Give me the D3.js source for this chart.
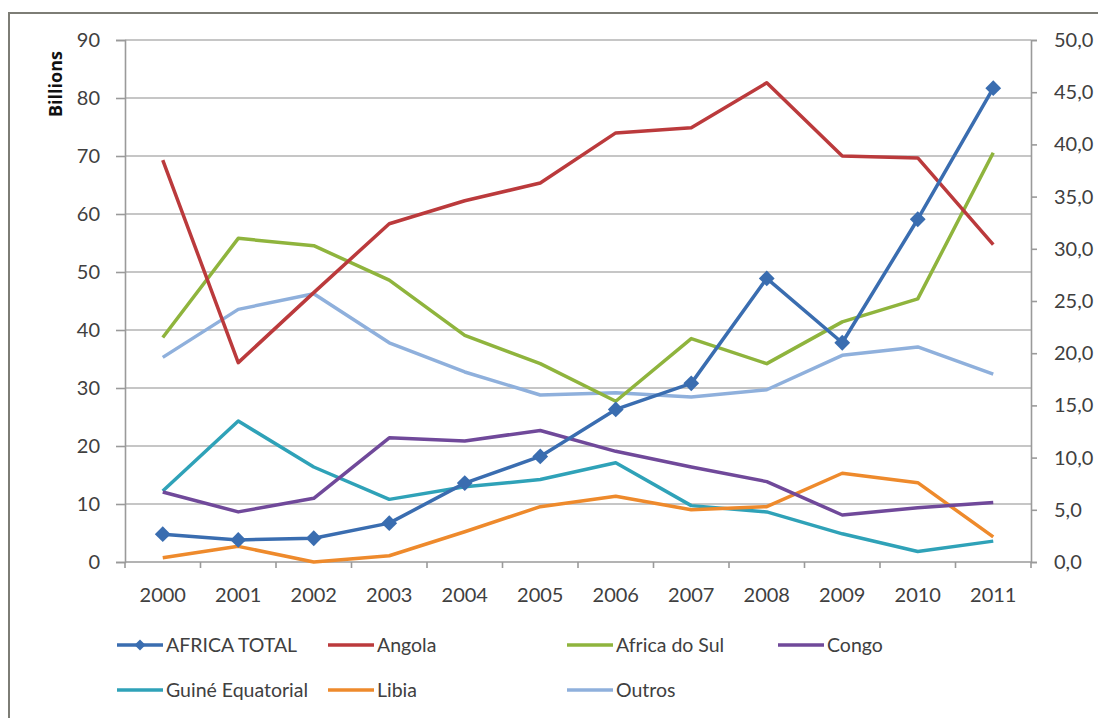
<!DOCTYPE html>
<html>
<head>
<meta charset="utf-8">
<script src="https://cdn.jsdelivr.net/npm/d3@7"></script>
<style>
  html, body { margin: 0; padding: 0; background: #ffffff; }
  svg { display: block; }
  text { font-family: Lato, "Open Sans", sans-serif; fill: #404040; }
</style>
</head>
<body>
<svg id="chart" width="1098" height="718"></svg>
<script>
// Categories (years)
const years = ["2000","2001","2002","2003","2004","2005","2006","2007","2008","2009","2010","2011"];

// Primary axis series (billions)
const africaTotal = [4.8, 3.8, 4.1, 6.7, 13.6, 18.2, 26.3, 30.8, 48.9, 37.8, 59.1, 81.7];

// Secondary axis series
const angola        = [38.5, 19.1, 25.8, 32.4, 34.6, 36.3, 41.1, 41.6, 45.9, 38.9, 38.7, 30.4];
const africaDoSul   = [21.5, 31.0, 30.3, 27.0, 21.7, 19.0, 15.4, 21.4, 19.0, 23.0, 25.2, 39.2];
const congo         = [6.7, 4.8, 6.1, 11.9, 11.6, 12.6, 10.6, 9.1, 7.7, 4.5, 5.2, 5.7];
const guineEq       = [6.8, 13.5, 9.1, 6.0, 7.2, 7.9, 9.5, 5.4, 4.8, 2.7, 1.0, 2.0];
const libia         = [0.4, 1.5, 0.0, 0.6, 2.9, 5.3, 6.3, 5.0, 5.3, 8.5, 7.6, 2.4];
const outros        = [19.6, 24.2, 25.7, 21.0, 18.2, 16.0, 16.2, 15.8, 16.5, 19.8, 20.6, 18.0];

// Tick values
const leftTicks  = [0, 10, 20, 30, 40, 50, 60, 70, 80, 90];
const rightTicks = [0, 5, 10, 15, 20, 25, 30, 35, 40, 45, 50];

const series = [
  { name: "AFRICA TOTAL",     values: africaTotal, axis: "left",  color: "#3a6db0", marker: true },
  { name: "Angola",           values: angola,      axis: "right", color: "#bb3a3c" },
  { name: "Africa do Sul",    values: africaDoSul, axis: "right", color: "#8fb43d" },
  { name: "Congo",            values: congo,       axis: "right", color: "#70499a" },
  { name: "Guiné Equatorial", values: guineEq,     axis: "right", color: "#2fa2b8" },
  { name: "Libia",            values: libia,       axis: "right", color: "#ee8a2c" },
  { name: "Outros",           values: outros,      axis: "right", color: "#8fb0dc" }
];

const svg = d3.select("#chart");
const plot = { left: 125, right: 1031, top: 40, bottom: 562 };

// Outer chart frame
svg.append("rect")
  .attr("x", 9).attr("y", 13)
  .attr("width", 1100).attr("height", 720)
  .attr("fill", "#ffffff")
  .attr("stroke", "#7d7d76").attr("stroke-width", 2);

const x = d3.scaleBand().domain(years).range([plot.left, plot.right]).paddingInner(0).paddingOuter(0);
const yL = d3.scaleLinear().domain([0, 90]).range([plot.bottom, plot.top]);
const yR = d3.scaleLinear().domain([0, 50]).range([plot.bottom, plot.top]);

// Horizontal gridlines
svg.append("g")
  .selectAll("line")
  .data(leftTicks.filter(d => d > 0))
  .join("line")
  .attr("x1", plot.left).attr("x2", plot.right)
  .attr("y1", d => yL(d)).attr("y2", d => yL(d))
  .attr("stroke", "#b3b3b3").attr("stroke-width", 1.6);

// Left axis
const gL = svg.append("g").attr("transform", `translate(${plot.left},0)`)
  .call(d3.axisLeft(yL).tickValues(leftTicks).tickSize(9).tickPadding(16).tickFormat(d3.format("d")));
// Right axis
const gR = svg.append("g").attr("transform", `translate(${plot.right},0)`)
  .call(d3.axisRight(yR).tickValues(rightTicks).tickSize(6).tickPadding(17)
    .tickFormat(d => d3.format(".1f")(d).replace(".", ",")));
// Bottom axis
const gB = svg.append("g").attr("transform", `translate(0,${plot.bottom})`)
  .call(d3.axisBottom(x).tickSize(0).tickPadding(26));

[gL, gR, gB].forEach(g => {
  g.select(".domain").attr("stroke", "#9a9a9a").attr("stroke-width", 1.6);
  g.selectAll(".tick line").attr("stroke", "#9a9a9a").attr("stroke-width", 1.6);
  g.selectAll(".tick text").style("font-family", "Lato, 'Open Sans', sans-serif")
    .style("font-size", "20px").attr("fill", "#404040");
});
gB.select(".domain").attr("d", `M${plot.left},0H${plot.right}`);

// Category boundary ticks on the x axis
const bounds = years.map(d => x(d)).concat([plot.right]);
svg.append("g").selectAll("line").data(bounds).join("line")
  .attr("x1", d => d).attr("x2", d => d)
  .attr("y1", plot.bottom).attr("y2", plot.bottom + 6)
  .attr("stroke", "#9a9a9a").attr("stroke-width", 1.6);

// Axis title
svg.append("text")
  .attr("transform", "translate(62,84) rotate(-90)")
  .attr("text-anchor", "middle")
  .style("font-family", "'Open Sans', Lato, sans-serif")
  .style("font-size", "18px").style("font-weight", "bold")
  .style("fill", "#111111")
  .text("Billions");

// Lines
const cx = d => x(d) + x.bandwidth() / 2;
const order = [6, 4, 5, 3, 2, 1, 0];
order.forEach(i => {
  const s = series[i];
  const yS = s.axis === "left" ? yL : yR;
  const line = d3.line().x((d, j) => cx(years[j])).y(d => yS(d));
  svg.append("path")
    .datum(s.values)
    .attr("d", line)
    .attr("fill", "none")
    .attr("stroke", s.color)
    .attr("stroke-width", 3.5)
    .attr("stroke-linejoin", "round");
  if (s.marker) {
    svg.append("g").selectAll("path").data(s.values).join("path")
      .attr("d", d3.symbol(d3.symbolSquare, 125)())
      .attr("transform", (d, j) => `translate(${cx(years[j])},${yS(d)}) rotate(45)`)
      .attr("fill", s.color);
  }
});

// Legend
const legendItems = [
  { i: 0, x: 117, y: 645 }, { i: 1, x: 328, y: 645 }, { i: 2, x: 567, y: 645 }, { i: 3, x: 778, y: 645 },
  { i: 4, x: 117, y: 690 }, { i: 5, x: 328, y: 690 }, { i: 6, x: 567, y: 690 }
];
const lg = svg.append("g");
legendItems.forEach(it => {
  const s = series[it.i];
  lg.append("line")
    .attr("x1", it.x).attr("x2", it.x + 46)
    .attr("y1", it.y).attr("y2", it.y)
    .attr("stroke", s.color).attr("stroke-width", 3.5);
  if (s.marker) {
    lg.append("path")
      .attr("d", d3.symbol(d3.symbolSquare, 60)())
      .attr("transform", `translate(${it.x + 23},${it.y}) rotate(45)`)
      .attr("fill", s.color);
  }
  lg.append("text")
    .attr("x", it.x + 49).attr("y", it.y)
    .attr("dy", "0.35em")
    .style("font-size", "19.5px")
    .attr("fill", "#404040")
    .text(s.name);
});
</script>
</body>
</html>
